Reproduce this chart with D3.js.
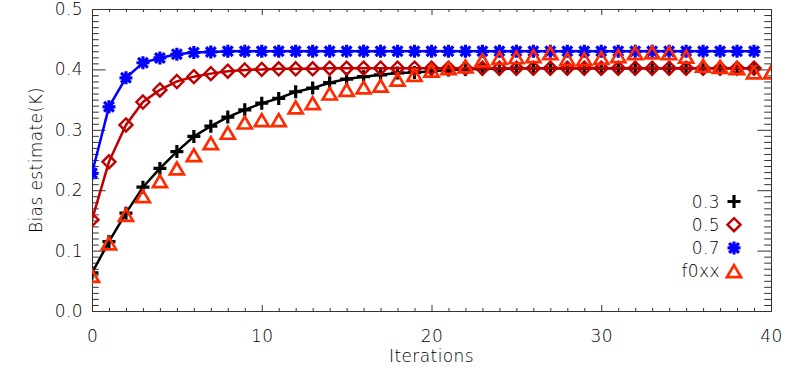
<!DOCTYPE html>
<html><head><meta charset="utf-8">
<script src="https://cdn.jsdelivr.net/npm/d3@7"></script>
<style>
body{margin:0;background:#fff;}
svg text{font-family:"DejaVu Sans",sans-serif;font-weight:200;fill:#000;letter-spacing:0.4px;}
</style></head>
<body><svg id="c" width="802" height="370"></svg>
<script>
const iterations = [0,1,2,3,4,5,6,7,8,9,10,11,12,13,14,15,16,17,18,19,20,21,22,23,24,25,26,27,28,29,30,31,32,33,34,35,36,37,38,39];
const iterationsF0xx = [0,1,2,3,4,5,6,7,8,9,10,11,12,13,14,15,16,17,18,19,20,21,22,23,24,25,26,27,28,29,30,31,32,33,34,35,36,37,38,39,40];
const series03 = [0.063,0.115,0.162,0.205,0.236,0.264,0.289,0.306,0.321,0.333,0.344,0.352,0.363,0.369,0.378,0.384,0.388,0.391,0.394,0.395,0.397,0.399,0.400,0.401,0.401,0.402,0.402,0.402,0.402,0.402,0.402,0.402,0.402,0.402,0.402,0.402,0.402,0.402,0.402,0.402];
const series05 = [0.151,0.247,0.308,0.346,0.366,0.380,0.388,0.393,0.397,0.399,0.400,0.401,0.401,0.401,0.402,0.402,0.402,0.402,0.402,0.402,0.402,0.402,0.402,0.402,0.402,0.402,0.402,0.402,0.402,0.402,0.402,0.402,0.402,0.402,0.402,0.402,0.402,0.402,0.402,0.402];
const series07 = [0.228,0.338,0.386,0.411,0.419,0.425,0.428,0.429,0.430,0.430,0.430,0.430,0.430,0.430,0.430,0.430,0.430,0.430,0.430,0.430,0.430,0.430,0.430,0.430,0.430,0.430,0.430,0.430,0.430,0.430,0.430,0.430,0.430,0.430,0.430,0.430,0.430,0.430,0.430,0.430];
const seriesF0xx = [0.058,0.112,0.159,0.190,0.215,0.236,0.258,0.278,0.295,0.312,0.316,0.316,0.337,0.344,0.360,0.366,0.370,0.373,0.383,0.391,0.398,0.402,0.405,0.415,0.419,0.420,0.422,0.427,0.417,0.417,0.419,0.422,0.427,0.428,0.427,0.421,0.406,0.404,0.402,0.395,0.395];
const legendLabels = ["0.3","0.5","0.7","f0xx"];
const xMajorTicks = [0,10,20,30,40];
const yMajorTicks = [0.0,0.1,0.2,0.3,0.4,0.5];
const xTitle = "Iterations";
const yTitle = "Bias estimate(K)";

const L=92,R=771,T=9,B=311;
const W=R-L,H=B-T;
const x=d3.scaleLinear().domain([0,40]).range([L,R]);
const y=d3.scaleLinear().domain([0,0.5]).range([B,T]);
const svg=d3.select("#c");
const axisColor="#333";
const fs=17;

svg.append("defs").append("clipPath").attr("id","clip").append("rect")
  .attr("x",L).attr("y",T).attr("width",W).attr("height",H);

const xMinor=d3.range(0,41,1).filter(v=>v%10!==0);
const yMinor=d3.range(0,51,1).map(v=>v/100).filter((v,i)=>i%10!==0);
const tkX=H*0.02, tkY=W*0.02;

function styleAxis(g){g.select(".domain").attr("stroke",axisColor).attr("stroke-width",1);
  g.selectAll(".tick line").attr("stroke",axisColor).attr("stroke-width",1);
  g.selectAll("text").attr("font-size",fs).attr("fill","#000").attr("font-family","DejaVu Sans").attr("font-weight",200);}

// bottom
const gb=svg.append("g").attr("transform",`translate(0,${B})`)
  .call(d3.axisBottom(x).tickValues(xMajorTicks).tickSize(-tkX).tickPadding(19).tickFormat(d3.format("d")));
styleAxis(gb);
svg.append("g").attr("transform",`translate(0,${B})`)
  .call(d3.axisBottom(x).tickValues(xMinor).tickSize(-tkX/2).tickFormat("")).call(styleAxis).select(".domain").remove();
// top
svg.append("g").attr("transform",`translate(0,${T})`)
  .call(d3.axisTop(x).tickValues(xMajorTicks).tickSize(-tkX).tickFormat("")).call(styleAxis);
svg.append("g").attr("transform",`translate(0,${T})`)
  .call(d3.axisTop(x).tickValues(xMinor).tickSize(-tkX/2).tickFormat("")).call(styleAxis).select(".domain").remove();
// left
const gl=svg.append("g").attr("transform",`translate(${L},0)`)
  .call(d3.axisLeft(y).tickValues(yMajorTicks).tickSize(-tkY).tickPadding(9).tickFormat(d3.format(".1f")));
styleAxis(gl);
svg.append("g").attr("transform",`translate(${L},0)`)
  .call(d3.axisLeft(y).tickValues(yMinor).tickSize(-tkY/2).tickFormat("")).call(styleAxis).select(".domain").remove();
// right
svg.append("g").attr("transform",`translate(${R},0)`)
  .call(d3.axisRight(y).tickValues(yMajorTicks).tickSize(-tkY).tickFormat("")).call(styleAxis);
svg.append("g").attr("transform",`translate(${R},0)`)
  .call(d3.axisRight(y).tickValues(yMinor).tickSize(-tkY/2).tickFormat("")).call(styleAxis).select(".domain").remove();

// titles
svg.append("text").attr("x",(L+R)/2).attr("y",362).attr("text-anchor","middle").attr("font-size",fs).text(xTitle);
svg.append("text").attr("transform",`translate(42,${(T+B)/2}) rotate(-90)`).attr("text-anchor","middle").attr("font-size",fs).text(yTitle);

// marker paths
const mk={
  plus:(s)=>`M${-s},0H${s}M0,${-s}V${s}`,
  diamond:(s)=>`M0,${-s}L${s},0L0,${s}L${-s},0Z`,
  star:(s)=>{const d=s*0.75;return `M${-s},0H${s}M0,${-s}V${s}M${-d},${-d}L${d},${d}M${-d},${d}L${d},${-d}`;},
  tri:(s)=>`M${-s},${s*0.85}L0,${-s*0.85}L${s},${s*0.85}Z`
};
const cfg=[
  {vals:series03,xs:iterations,color:"#000",marker:"plus",size:6.5,sw:3.2,line:true},
  {vals:series05,xs:iterations,color:"#c00000",marker:"diamond",size:6.5,sw:2.4,line:true},
  {vals:series07,xs:iterations,color:"#0000ff",marker:"star",size:6.5,sw:3.2,line:true},
  {vals:seriesF0xx,xs:iterationsF0xx,color:"#ff2a00",marker:"tri",size:7,sw:2.7,line:false}
];
const plot=svg.append("g").attr("clip-path","url(#clip)");
const lineGen=d3.line().x(d=>x(d[0])).y(d=>y(d[1]));
cfg.forEach(c=>{
  const pts=c.xs.map((v,i)=>[v,c.vals[i]]);
  const g=plot.append("g");
  if(c.line) g.append("path").attr("d",lineGen(pts)).attr("fill","none").attr("stroke",c.color).attr("stroke-width",2.5);
  g.selectAll("path.m").data(pts).join("path").attr("class","m")
    .attr("transform",d=>`translate(${x(d[0])},${y(d[1])})`)
    .attr("d",mk[c.marker](c.size)).attr("fill","none").attr("stroke",c.color).attr("stroke-width",c.sw);
});

// legend
const lg=svg.append("g");
legendLabels.forEach((lab,i)=>{
  const cy=201.5+i*23.2;
  lg.append("text").attr("x",720).attr("y",cy).attr("dy","0.36em").attr("text-anchor","end").attr("font-size",fs).text(lab);
  const c=cfg[i];
  lg.append("path").attr("transform",`translate(734,${cy})`).attr("d",mk[c.marker](c.size)).attr("fill","none").attr("stroke",c.color).attr("stroke-width",c.sw);
});
</script></body></html>
